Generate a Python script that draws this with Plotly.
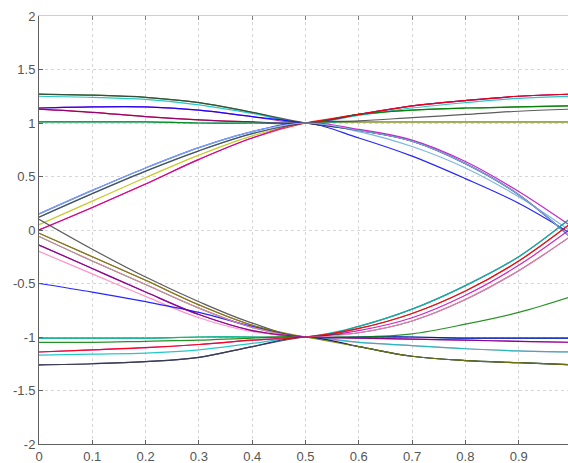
import plotly.graph_objects as go

# sample positions (one symbol period)
x_left = [0.0, 0.1, 0.2, 0.3, 0.4, 0.5]
x_right = [0.6, 0.7, 0.8, 0.9, 1.0]

# left halves (x = 0 .. 0.5)
upper_left = {
    "A1": [1.27, 1.26, 1.24, 1.19, 1.10, 1.00],
    "A2": [1.25, 1.24, 1.22, 1.17, 1.09, 1.00],
    "B1": [1.14, 1.15, 1.15, 1.12, 1.06, 1.00],
    "B2": [1.13, 1.10, 1.06, 1.03, 1.01, 1.00],
    "C":  [1.01, 1.01, 1.01, 1.00, 1.00, 1.00],
    "D1": [0.15, 0.37, 0.58, 0.77, 0.92, 1.00],
    "D2": [0.12, 0.34, 0.55, 0.74, 0.90, 1.00],
    "D3": [0.05, 0.27, 0.49, 0.70, 0.88, 1.00],
    "D4": [0.00, 0.21, 0.43, 0.66, 0.86, 1.00],
}
lower_left = {
    "E1": [0.10, -0.18, -0.44, -0.67, -0.87, -1.00],
    "E2": [-0.03, -0.25, -0.47, -0.70, -0.89, -1.00],
    "E3": [-0.06, -0.29, -0.51, -0.73, -0.91, -1.00],
    "E4": [-0.14, -0.36, -0.58, -0.79, -0.94, -1.00],
    "E5": [-0.20, -0.41, -0.62, -0.82, -0.95, -1.00],
    "F":  [-0.50, -0.58, -0.67, -0.77, -0.90, -1.00],
    "G1": [-1.01, -1.01, -1.01, -1.00, -1.00, -1.00],
    "G2": [-1.05, -1.05, -1.04, -1.03, -1.01, -1.00],
    "H1": [-1.14, -1.12, -1.10, -1.07, -1.03, -1.00],
    "H2": [-1.17, -1.16, -1.15, -1.12, -1.06, -1.00],
    "I":  [-1.26, -1.25, -1.23, -1.19, -1.09, -1.00],
}
# right halves (x = 0.6 .. 1.0)
upper_right = {
    "a1": [1.08, 1.16, 1.21, 1.25, 1.27],
    "a2": [1.07, 1.14, 1.19, 1.23, 1.25],
    "b1": [1.08, 1.12, 1.14, 1.15, 1.16],
    "b2": [1.02, 1.05, 1.08, 1.11, 1.13],
    "c":  [1.01, 1.01, 1.01, 1.01, 1.01],
    "d1": [0.86, 0.69, 0.48, 0.25, -0.04],
    "d2": [0.93, 0.83, 0.62, 0.33, -0.08],
    "d3": [0.92, 0.78, 0.58, 0.31, -0.02],
    "d4": [0.94, 0.84, 0.64, 0.36, 0.03],
}
lower_right = {
    "e1": [-0.90, -0.74, -0.52, -0.25, 0.12],
    "e2": [-0.92, -0.78, -0.57, -0.29, 0.07],
    "e3": [-0.94, -0.82, -0.61, -0.33, 0.02],
    "e4": [-0.96, -0.85, -0.65, -0.38, -0.05],
    "f":  [-1.00, -0.97, -0.88, -0.77, -0.62],
    "g":  [-1.00, -1.00, -1.01, -1.01, -1.01],
    "g2": [-1.01, -1.02, -1.03, -1.04, -1.05],
    "h":  [-1.05, -1.08, -1.11, -1.13, -1.14],
    "i":  [-1.09, -1.18, -1.22, -1.24, -1.26],
}

# traces: (left half, right half, colour)
traces = [
    ("A1", "b1", "#008000"), ("A2", "a2", "#00bfbf"), ("B1", "a1", "#bf00bf"),
    ("B1", "d2", "#0000ff"), ("B2", "c", "#ff0000"), ("B2", "a1", "#800080"),
    ("C", "c", "#00bfbf"), ("C", "b1", "#008000"), ("D1", "d1", "#0000ff"),
    ("D2", "d3", "#66aadd"), ("D3", "c", "#bfbf00"), ("D4", "a1", "#ff0000"),
    ("D4", "d4", "#bf00bf"), ("A1", "d2", "#404040"), ("D2", "b2", "#404040"),
    ("D1", "d2", "#88bbee"),
    ("E1", "e1", "#404040"), ("E2", "e2", "#8b3a3a"), ("E3", "g", "#008000"),
    ("E4", "e3", "#bf00bf"), ("E5", "h", "#ff80c0"), ("F", "g", "#0000ff"),
    ("G1", "f", "#008000"), ("G1", "e1", "#00bfbf"), ("G2", "i", "#008000"),
    ("H1", "g2", "#bf00bf"), ("H2", "h", "#00bfbf"), ("I", "i", "#000080"),
    ("I", "e4", "#404040"), ("E2", "i", "#808000"), ("H1", "e2", "#ff0000"),
    ("E3", "e4", "#ff80c0"), ("E4", "g2", "#800080"),
]

halves = {**upper_left, **lower_left}
rhalves = {**upper_right, **lower_right}

fig = go.Figure()
for lk, rk, col in traces:
    fig.add_trace(go.Scatter(
        x=x_left + x_right, y=halves[lk] + rhalves[rk], mode="lines",
        line=dict(color=col, width=1.2, shape="spline", smoothing=1.0),
        opacity=0.85, showlegend=False, hoverinfo="skip"))

# dummy trace for top (mirrored) tick axis
fig.add_trace(go.Scatter(x=[None], y=[None], xaxis="x2", showlegend=False))

x_ticks = [0, 0.1, 0.2, 0.3, 0.4, 0.5, 0.6, 0.7, 0.8, 0.9, 1.0]
x_labels = ["0", "0.1", "0.2", "0.3", "0.4", "0.5", "0.6", "0.7", "0.8", "0.9", "1"]
y_ticks = [-2, -1.5, -1, -0.5, 0, 0.5, 1, 1.5, 2]
y_labels = ["-2", "-1.5", "-1", "-0.5", "0", "0.5", "1", "1.5", "2"]

font = dict(family="Liberation Sans, Arial, sans-serif", size=13, color="#555555")
xr = [0, 0.9925]
fig.update_layout(
    width=568, height=463,
    margin=dict(l=39, r=0, t=16, b=19, autoexpand=False),
    paper_bgcolor="white", plot_bgcolor="white",
    font=font,
    xaxis=dict(range=xr, tickvals=x_ticks, ticktext=x_labels, showgrid=True,
               gridcolor="#d6d6d6", griddash="dot", gridwidth=1,
               showline=True, linecolor="#606060", linewidth=1,
               ticks="inside", ticklen=4, tickcolor="#606060",
               zeroline=False, tickfont=font, automargin=False),
    xaxis2=dict(range=xr, overlaying="x", side="top", tickvals=x_ticks,
                showticklabels=False, showgrid=False, showline=True,
                linecolor="#cfcfcf", ticks="inside", ticklen=4,
                tickcolor="#808080", zeroline=False, automargin=False),
    yaxis=dict(range=[-2, 2], tickvals=y_ticks, ticktext=y_labels, showgrid=True,
               gridcolor="#d6d6d6", griddash="dot", gridwidth=1,
               showline=True, linecolor="#606060", linewidth=1,
               ticks="inside", ticklen=4, tickcolor="#606060",
               zeroline=False, tickfont=font, automargin=False),
)

fig.write_html("out.html", config={"displayModeBar": False},
               post_script="document.body.style.margin='0';document.body.style.padding='0';")
